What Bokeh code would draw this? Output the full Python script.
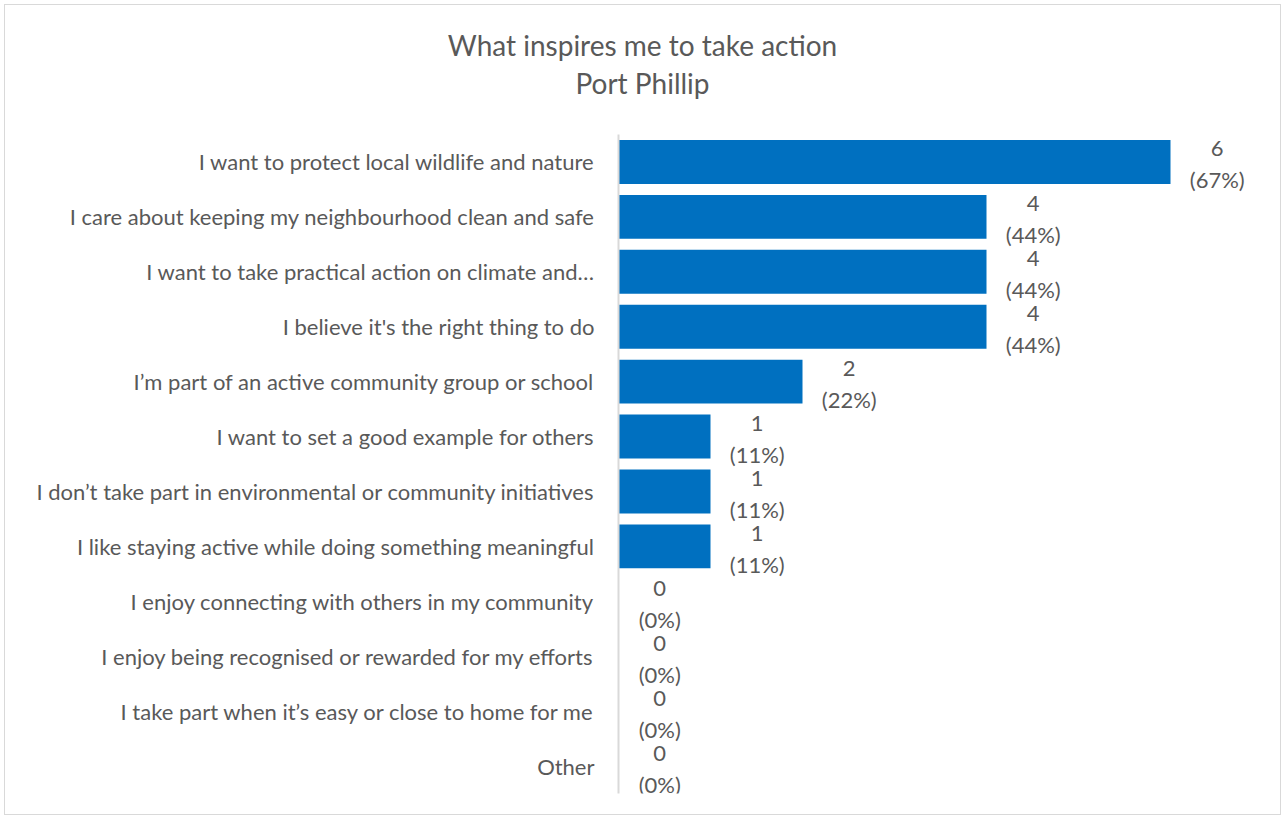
from bokeh.plotting import figure
from bokeh.models import ColumnDataSource, Div, Range1d
from bokeh.layouts import column
from bokeh.core.properties import value
from bokeh.embed import file_html
from bokeh.resources import INLINE

title_lines = ["What inspires me to take action", "Port Phillip"]
categories = [
    "I want to protect local wildlife and nature",
    "I care about keeping my neighbourhood clean and safe",
    "I want to take practical action on climate and\u2026",
    "I believe it's the right thing to do",
    "I\u2019m part of an active community group or school",
    "I want to set a good example for others",
    "I don\u2019t take part in environmental or community initiatives",
    "I like staying active while doing something meaningful",
    "I enjoy connecting with others in my community",
    "I enjoy being recognised or rewarded for my efforts",
    "I take part when it\u2019s easy or close to home for me",
    "Other",
]
counts = [6, 4, 4, 4, 2, 1, 1, 1, 0, 0, 0, 0]
percents = [67, 44, 44, 44, 22, 11, 11, 11, 0, 0, 0, 0]

FONT = "Lato"
TXT = "#595959"
BAR = "#0070C0"

count_lab = [str(c) for c in counts]
pct_lab = [f"({p}%)" for p in percents]
xoff = [19 + len(s) * 11.1 / 2 for s in pct_lab]
src = ColumnDataSource(dict(cat=categories, n=counts, c=count_lab,
                            pc=pct_lab, xoff=xoff))

W = 1275
title_div = Div(
    text=(f'<div style="text-align:center;font-family:{FONT};font-size:28px;'
          f'color:{TXT};line-height:38px;padding-top:21px;width:{W}px">'
          + "<br>".join(title_lines) + "</div>"),
    width=W, height=120, margin=0,
)

p = figure(
    y_range=list(reversed(categories)),
    x_range=Range1d(0, 632 / 92.0),
    width=W, height=689,
    output_backend="svg", toolbar_location=None,
    min_border_left=613, min_border_right=30,
    min_border_top=9, min_border_bottom=21,
    margin=0,
)
p.hbar(y="cat", right="n", height=0.8, source=src, color=BAR, line_color=None)
common = dict(source=src, x_offset="xoff", text_align="center",
              text_baseline="middle", text_font=value(FONT),
              text_font_size="22px", text_color=TXT)
p.text(x="n", y="cat", text="c", y_offset=-13, **common)
p.text(x="n", y="cat", text="pc", y_offset=18, **common)

p.xaxis.visible = False
p.xgrid.visible = False
p.ygrid.visible = False
p.outline_line_color = None
p.yaxis.axis_line_color = "#d9d9d9"
p.yaxis.axis_line_width = 2
p.yaxis.major_tick_line_color = None
p.yaxis.minor_tick_line_color = None
p.yaxis.major_label_text_font = FONT
p.yaxis.major_label_text_font_size = "22px"
p.yaxis.major_label_text_color = TXT
p.yaxis.major_label_standoff = 18
p.y_range.range_padding = 0

layout = column(title_div, p, margin=4,
                styles={"border": "1px solid #d9d9d9", "background": "white"})

open("out.html", "w").write(file_html(layout, INLINE))
